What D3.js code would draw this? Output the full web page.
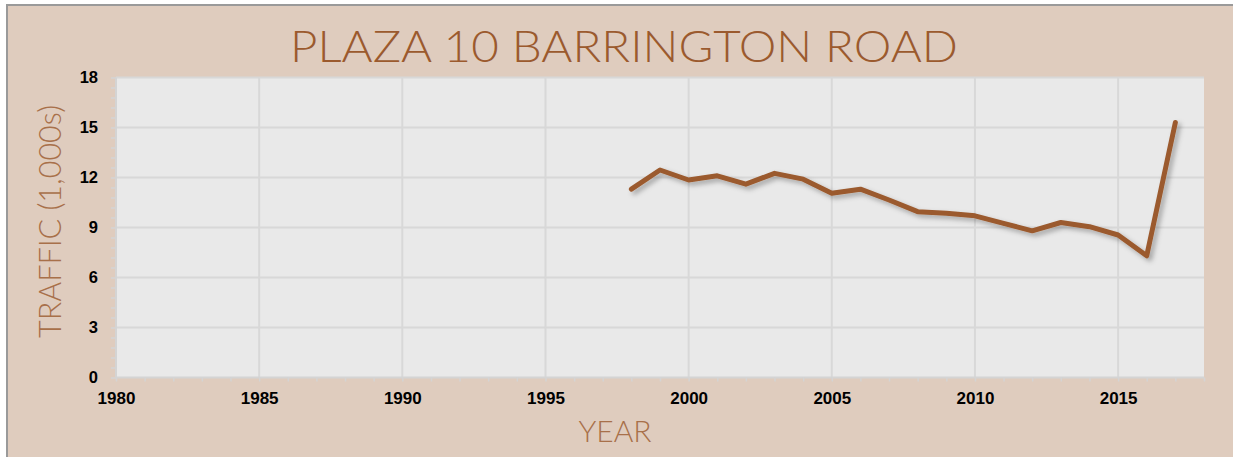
<!DOCTYPE html>
<html><head><meta charset="utf-8">
<script src="https://cdn.jsdelivr.net/npm/d3@7"></script>
<style>html,body{margin:0;padding:0;background:#fff;}svg{display:block;}</style>
</head><body>
<svg id="chart" width="1233" height="457"></svg>
<script>
const years = [1998,1999,2000,2001,2002,2003,2004,2005,2006,2007,2008,2009,2010,2011,2012,2013,2014,2015,2016,2017];
const traffic = [11.3,12.45,11.85,12.1,11.6,12.25,11.9,11.05,11.3,10.65,9.95,9.85,9.7,9.25,8.8,9.3,9.05,8.55,7.3,15.3];
const xTicks = [1980,1985,1990,1995,2000,2005,2010,2015];
const yTicks = [0,3,6,9,12,15,18];
const title = "PLAZA 10 BARRINGTON ROAD";
const xLabel = "YEAR";
const yLabel = "TRAFFIC (1,000s)";

const svg = d3.select("#chart");
const W = 1233, H = 457;
const m = {left:116, right:1204, top:77.5, bottom:377.5};

svg.append("rect").attr("x",0).attr("y",0).attr("width",W).attr("height",H).attr("fill","#fff");
svg.append("rect").attr("x",7).attr("y",5).attr("width",W-7).attr("height",H-5).attr("fill","#dfccbe");
svg.append("line").attr("x1",6).attr("x2",W).attr("y1",5).attr("y2",5).attr("stroke","#9a9a9a").attr("stroke-width",2);
svg.append("line").attr("x1",7).attr("x2",7).attr("y1",5).attr("y2",H).attr("stroke","#9a9a9a").attr("stroke-width",2);

const defs = svg.append("defs");
const f = defs.append("filter").attr("id","shadow").attr("x","-10%").attr("y","-10%").attr("width","120%").attr("height","130%");
f.append("feDropShadow").attr("dx",3).attr("dy",3).attr("stdDeviation",2.5).attr("flood-color","#000").attr("flood-opacity",0.3);

const x = d3.scaleLinear().domain([1980,2018]).range([m.left,m.right]);
const y = d3.scaleLinear().domain([0,18]).range([m.bottom,m.top]);

svg.append("rect").attr("x",m.left).attr("y",m.top).attr("width",m.right-m.left).attr("height",m.bottom-m.top).attr("fill","#e9e9e9");

// gridlines
svg.append("g").selectAll("line").data(yTicks.filter(d=>d>0)).join("line")
  .attr("x1",m.left).attr("x2",m.right).attr("y1",d=>y(d)).attr("y2",d=>y(d))
  .attr("stroke","#d8d8d8").attr("stroke-width",2);
svg.append("g").selectAll("line").data(xTicks.filter(d=>d>1980)).join("line")
  .attr("x1",d=>x(d)).attr("x2",d=>x(d)).attr("y1",m.top).attr("y2",m.bottom)
  .attr("stroke","#d8d8d8").attr("stroke-width",2);

// axes
const xAxis = svg.append("g").attr("transform",`translate(0,${m.bottom})`)
  .call(d3.axisBottom(x).tickValues(d3.range(1980,2019,1)).tickSize(4).tickFormat(d=>xTicks.includes(d)?d:""));
xAxis.select(".domain").attr("stroke","#d4d4d4").attr("stroke-width",2).attr("d",`M${m.left},0H${m.right}`);
xAxis.selectAll(".tick line").attr("stroke","#d4d4d4").attr("stroke-width",1.5);
xAxis.selectAll(".tick text").attr("y",26).attr("dy","0").attr("font-family","Liberation Sans, Arial, sans-serif")
  .attr("font-weight","bold").attr("font-size",17).attr("fill","#000");

const yAxis = svg.append("g").attr("transform",`translate(${m.left},0)`)
  .call(d3.axisLeft(y).tickValues(d3.range(0,18.01,0.6).map(d=>+d.toFixed(1))).tickSize(5).tickFormat(d=>yTicks.includes(d)?d:""));
yAxis.select(".domain").attr("stroke","#d4d4d4").attr("stroke-width",2).attr("d",`M0,${m.bottom}V${m.top}`);
yAxis.selectAll(".tick line").attr("stroke","#d4d4d4").attr("stroke-width",1.5);
yAxis.selectAll(".tick text").attr("x",-18).attr("font-family","Liberation Sans, Arial, sans-serif")
  .attr("font-weight","bold").attr("font-size",16.5).attr("fill","#000");

// line
const line = d3.line().x((d,i)=>x(years[i])).y(d=>y(d));
svg.append("path").datum(traffic).attr("d",line).attr("fill","none")
  .attr("stroke","#9b5a2e").attr("stroke-width",5).attr("stroke-linejoin","round").attr("stroke-linecap","round")
  .attr("filter","url(#shadow)");

// title & labels
svg.append("text").attr("x",624).attr("y",62).attr("text-anchor","middle")
  .attr("font-family","Lato, sans-serif").attr("font-weight",300).attr("font-size",44)
  .attr("fill","#9b5a2e").attr("textLength",668).attr("lengthAdjust","spacingAndGlyphs").text(title);
svg.append("text").attr("x",615).attr("y",442).attr("text-anchor","middle")
  .attr("font-family","Lato, sans-serif").attr("font-weight",300).attr("font-size",30)
  .attr("fill","#a8704a").text(xLabel);
svg.append("text").attr("transform","translate(61,221.5) rotate(-90)").attr("text-anchor","middle")
  .attr("font-family","Lato, sans-serif").attr("font-weight",300).attr("font-size",31)
  .attr("fill","#a8704a").attr("textLength",233).attr("lengthAdjust","spacingAndGlyphs").text(yLabel);
</script>
</body></html>
